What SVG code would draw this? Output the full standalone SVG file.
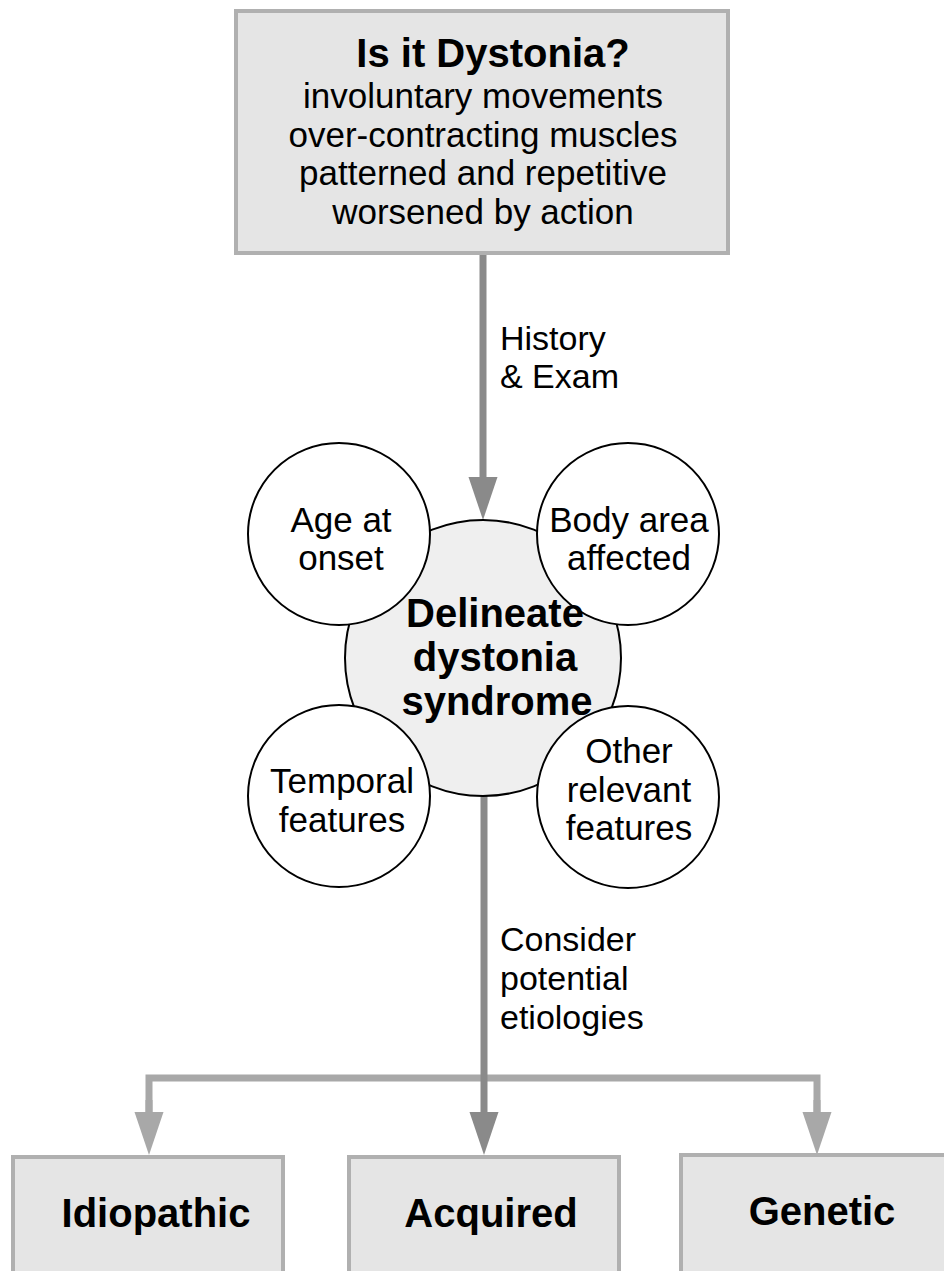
<svg xmlns="http://www.w3.org/2000/svg" width="944" height="1271" viewBox="0 0 944 1271">
<style>
text{font-family:"Liberation Sans",Arial,sans-serif;fill:#000;text-anchor:middle}
.n{font-size:35px}
.b{font-size:40px;font-weight:bold}
.lbl{font-size:34px;text-anchor:start}
.box{fill:#e5e5e5;stroke:#b0b0b0;stroke-width:4}
.sm{fill:#fff;stroke:#000;stroke-width:2}
.ctr{fill:#efefef;stroke:#000;stroke-width:2}
.dk{stroke:#8a8a8a;stroke-width:7;fill:none}
.lt{stroke:#a8a8a8;stroke-width:7;fill:none}
</style>
<defs>
<marker id="ahd" markerUnits="userSpaceOnUse" markerWidth="43" markerHeight="30" refX="0" refY="15" orient="auto" viewBox="0 0 43 30"><path d="M0,0.5 L43,15 L0,29.5 z" fill="#8a8a8a"/></marker>
<marker id="ahl" markerUnits="userSpaceOnUse" markerWidth="43" markerHeight="30" refX="0" refY="15" orient="auto" viewBox="0 0 43 30"><path d="M0,0.5 L43,15 L0,29.5 z" fill="#a8a8a8"/></marker>
</defs>
<g id="connectors">
<line class="dk" x1="483" y1="254" x2="483" y2="477" marker-end="url(#ahd)"/>
<text class="lbl" x="500" y="350">History</text>
<text class="lbl" x="500" y="388">&amp; Exam</text>
<path class="lt" d="M149,1112 L149,1078 L817,1078 L817,1112"/>
<line class="lt" x1="149" y1="1100" x2="149" y2="1112" marker-end="url(#ahl)"/>
<line class="lt" x1="817" y1="1100" x2="817" y2="1112" marker-end="url(#ahl)"/>
<line class="dk" x1="484" y1="796" x2="484" y2="1112" marker-end="url(#ahd)"/>
<text class="lbl" x="500" y="951">Consider</text>
<text class="lbl" x="500" y="990">potential</text>
<text class="lbl" x="500" y="1029">etiologies</text>
</g>
<g id="top">
<rect class="box" x="236" y="11" width="492" height="242"/>
<text class="b" x="493" y="67">Is it Dystonia?</text>
<text class="n" x="483" y="108">involuntary movements</text>
<text class="n" x="483" y="147">over-contracting muscles</text>
<text class="n" x="483" y="185">patterned and repetitive</text>
<text class="n" x="483" y="224">worsened by action</text>
</g>
<g id="delineate">
<circle class="ctr" cx="483" cy="658" r="138"/>
</g>
<g id="age">
<circle class="sm" cx="339" cy="534" r="91"/>
<text class="n" x="341" y="532">Age at</text>
<text class="n" x="341" y="570">onset</text>
</g>
<g id="body">
<circle class="sm" cx="628" cy="534" r="91"/>
<text class="n" x="629" y="532">Body area</text>
<text class="n" x="629" y="570">affected</text>
</g>
<g id="temporal">
<circle class="sm" cx="339" cy="796" r="91"/>
<text class="n" x="342" y="793">Temporal</text>
<text class="n" x="342" y="832">features</text>
</g>
<g id="other">
<circle class="sm" cx="628" cy="797" r="91"/>
<text class="n" x="629" y="763">Other</text>
<text class="n" x="629" y="802">relevant</text>
<text class="n" x="629" y="840">features</text>
</g>
<g id="delineate-text">
<text class="b" x="495" y="627">Delineate</text>
<text class="b" x="495" y="671">dystonia</text>
<text class="b" x="497" y="715">syndrome</text>
</g>
<g id="idiopathic">
<rect class="box" x="13" y="1157" width="270" height="130"/>
<text class="b" x="156" y="1227">Idiopathic</text>
</g>
<g id="acquired">
<rect class="box" x="349" y="1157" width="270" height="130"/>
<text class="b" x="491" y="1227">Acquired</text>
</g>
<g id="genetic">
<rect class="box" x="681" y="1155" width="280" height="130"/>
<text class="b" x="822" y="1225">Genetic</text>
</g>
</svg>
